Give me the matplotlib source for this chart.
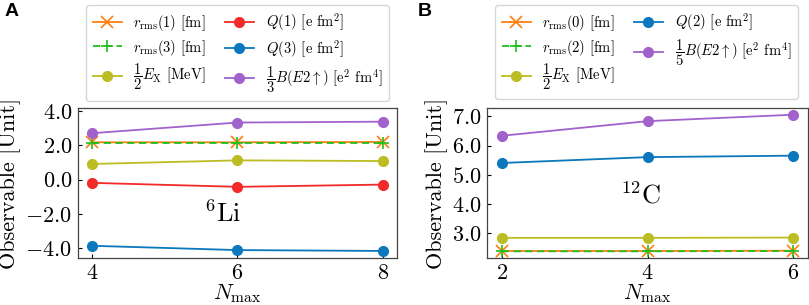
import matplotlib
matplotlib.use("Agg")
import matplotlib.pyplot as plt
from matplotlib.ticker import FuncFormatter

plt.rcParams['font.family'] = 'serif'
plt.rcParams['font.serif'] = ['cmr10']
plt.rcParams['mathtext.fontset'] = 'cm'
plt.rcParams['axes.formatter.use_mathtext'] = True
plt.rcParams['axes.unicode_minus'] = True

# ---- data: panel A (6Li) ----
nmax_A = [4, 6, 8]
rrms1_A = [2.17, 2.17, 2.19]
rrms3_A = [2.13, 2.13, 2.13]
halfEx_A = [0.91, 1.12, 1.08]
Q1_A = [-0.19, -0.42, -0.29]
Q3_A = [-3.85, -4.10, -4.15]
thirdBE2_A = [2.70, 3.32, 3.37]
yticks_A = [-4.0, -2.0, 0.0, 2.0, 4.0]

# ---- data: panel B (12C) ----
nmax_B = [2, 4, 6]
rrms0_B = [2.40, 2.40, 2.41]
rrms2_B = [2.39, 2.39, 2.40]
halfEx_B = [2.85, 2.85, 2.86]
Q2_B = [5.41, 5.61, 5.66]
fifthBE2_B = [6.34, 6.84, 7.06]
yticks_B = [3.0, 4.0, 5.0, 6.0, 7.0]

c_orange = '#ff7f0e'
c_green = '#1fbf1f'
c_yellow = '#bcbd22'
c_red = '#f22a2a'
c_blue = '#0b78bd'
c_purple = '#a262cc'

fig = plt.figure(figsize=(8.09, 3.05), dpi=100)
axA = fig.add_axes([0.096, 0.153, 0.395, 0.492])
axB = fig.add_axes([0.6023, 0.153, 0.3965, 0.492])

ms = 7
lw = 1.3

def style(ax):
    ax.tick_params(direction='in', length=3, labelsize=16, top=False, right=False, pad=4)
    for s in ax.spines.values():
        s.set_color('#444444')
        s.set_linewidth(0.9)
    ax.yaxis.set_major_formatter(FuncFormatter(lambda v, p: f"${v:.1f}$"))
    ax.xaxis.set_major_formatter(FuncFormatter(lambda v, p: f"${int(round(v))}$"))
    ax.set_xlabel(r"$N_{\rm max}$", fontsize=16, labelpad=-1)
    ax.set_ylabel("Observable [Unit]", fontsize=16, labelpad=3)

dash = (0, (4, 2.5))

# Panel A
hA = []
hA += axA.plot(nmax_A, rrms1_A, '-x', color=c_orange, lw=lw, ms=9, mew=1.2, label=r"$r_{\rm rms}(1)$ [fm]")
hA += axA.plot(nmax_A, rrms3_A, marker='+', ls=dash, color=c_green, lw=lw, ms=9, mew=1.2, label=r"$r_{\rm rms}(3)$ [fm]")
hA += axA.plot(nmax_A, halfEx_A, '-o', color=c_yellow, lw=lw, ms=ms, label=r"$\dfrac{1}{2}E_{\rm X}$ [MeV]")
hA += axA.plot(nmax_A, Q1_A, '-o', color=c_red, lw=lw, ms=ms, label=r"$Q(1)$ [e fm$^2$]")
hA += axA.plot(nmax_A, Q3_A, '-o', color=c_blue, lw=lw, ms=ms, label=r"$Q(3)$ [e fm$^2$]")
hA += axA.plot(nmax_A, thirdBE2_A, '-o', color=c_purple, lw=lw, ms=ms, label=r"$\dfrac{1}{3}B(E2\uparrow)$ [e$^2$ fm$^4$]")
axA.set_xlim(3.8, 8.2)
axA.set_ylim(-4.58, 4.15)
axA.set_xticks(nmax_A)
axA.set_yticks(yticks_A)
style(axA)
axA.text(5.8, -2.0, r"$^{6}$Li", fontsize=19, ha='center', va='center')

# Panel B
hB = []
hB += axB.plot(nmax_B, rrms0_B, '-x', color=c_orange, lw=lw, ms=9, mew=1.2, label=r"$r_{\rm rms}(0)$ [fm]")
hB += axB.plot(nmax_B, rrms2_B, marker='+', ls=dash, color=c_green, lw=lw, ms=9, mew=1.2, label=r"$r_{\rm rms}(2)$ [fm]")
hB += axB.plot(nmax_B, halfEx_B, '-o', color=c_yellow, lw=lw, ms=ms, label=r"$\dfrac{1}{2}E_{\rm X}$ [MeV]")
hB += axB.plot(nmax_B, Q2_B, '-o', color=c_blue, lw=lw, ms=ms, label=r"$Q(2)$ [e fm$^2$]")
hB += axB.plot(nmax_B, fifthBE2_B, '-o', color=c_purple, lw=lw, ms=ms, label=r"$\dfrac{1}{5}B(E2\uparrow)$ [e$^2$ fm$^4$]")
axB.set_xlim(1.8, 6.2)
axB.set_xticks(nmax_B)
axB.set_yticks(yticks_B)
axB.set_ylim(2.15, 7.28)
style(axB)
axB.text(3.9, 4.3, r"$^{12}$C", fontsize=19, ha='center', va='center')

legkw = dict(ncol=2, fontsize=10.5, borderaxespad=0, framealpha=0.8, edgecolor='#cccccc',
             columnspacing=1.3, handlelength=2.0, labelspacing=0.3, borderpad=0.45)
fig.legend(handles=hA, loc='upper left', bbox_to_anchor=(86/809, 1 - 5/305), **legkw)
fig.legend(handles=hB, loc='upper left', bbox_to_anchor=(495/809, 1 - 5/305), **legkw)

fig.text(5/809, 1 - 3/305, "A", fontsize=14, fontweight='bold', family='Liberation Sans', va='top', ha='left')
fig.text(418/809, 1 - 3/305, "B", fontsize=14, fontweight='bold', family='Liberation Sans', va='top', ha='left')

fig.savefig("out.png", dpi=100)
